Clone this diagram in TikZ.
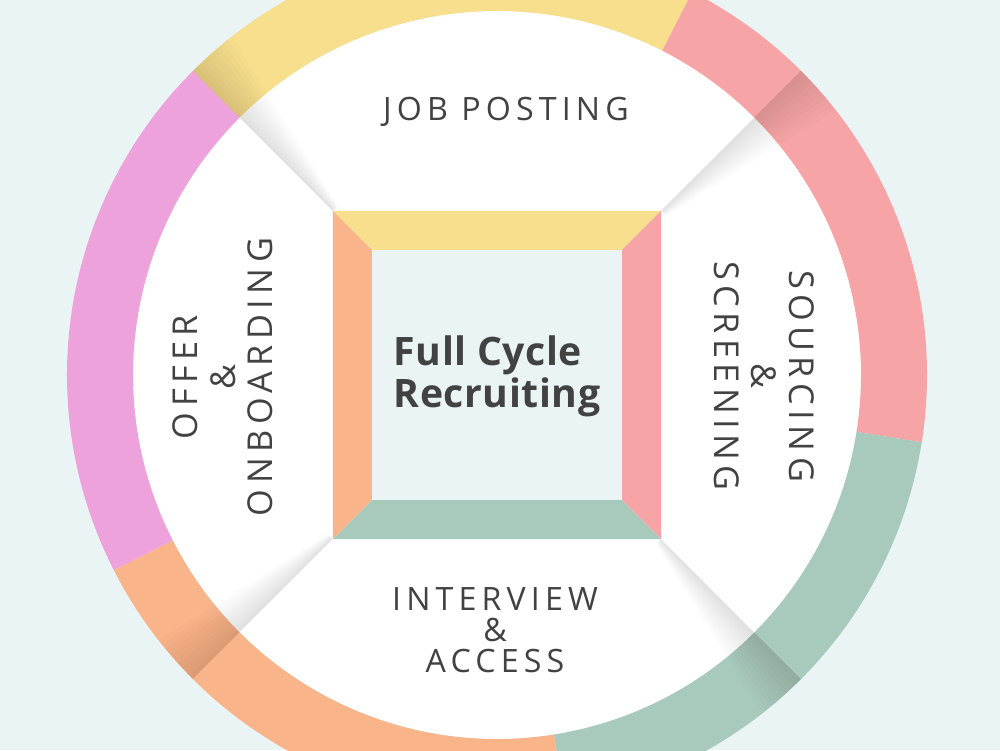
\documentclass[tikz,border=0pt]{standalone}
\usepackage{fontspec}
\setmainfont{Open Sans}
\newfontfamily\labelfont[LetterSpace=16]{Open Sans}
\newfontfamily\titlefont[LetterSpace=1.5]{Open Sans}
\definecolor{bgblue}{HTML}{EAF4F5}
\definecolor{ringyellow}{HTML}{F7DF8D}
\definecolor{ringred}{HTML}{F6A4A5}
\definecolor{ringgreen}{HTML}{A8CABD}
\definecolor{ringorange}{HTML}{F9B489}
\definecolor{ringpurple}{HTML}{EEA2DC}
\definecolor{textgray}{HTML}{424242}
\tikzset{
  steplabel/.style={text=textgray, inner sep=0pt, align=center,
    font=\labelfont\fontsize{18.3}{17.6}\selectfont},
  sidelabel/.style={steplabel, font=\labelfont\fontsize{19.5}{21.3}\selectfont},
  titlelabel/.style={text=textgray, inner sep=0pt, align=left,
    font=\titlefont\bfseries\fontsize{22.3}{23.9}\selectfont}
}
\begin{document}
\begin{tikzpicture}[x=0.2mm, y=0.2mm]
  \useasboundingbox (-497,-375) rectangle (503,375);
  \clip (-497,-375) rectangle (503,375);
  \fill[bgblue] (-497,-375) rectangle (503,375);
  \fill[white] (0,0) circle (364);
  \foreach \a/\c in {63/ringyellow, -9/ringred, -81/ringgreen, 207/ringorange, 135/ringpurple}{
    \fill[\c] (\a:430) arc[start angle=\a, delta angle=72, radius=430]
      -- ({\a+72}:364) arc[start angle={\a+72}, delta angle=-72, radius=364] -- cycle;
  }
  \begin{scope}
    \clip (0,0) circle (430);
    \foreach \a in {45,135,225,315}{
      \foreach \i in {1,...,10}{
        \fill[black, opacity=0.013, rotate=\a] (232,0) -- (440,0) -- (440,-5.5*\i) -- (232,-0.7*\i) -- cycle;
      }
    }
  \end{scope}
  \foreach \a/\c in {0/ringyellow, -90/ringred, 180/ringgreen, 90/ringorange}{
    \fill[\c, rotate=\a] (-164,164) -- (164,164) -- (125,125) -- (-125,125) -- cycle;
  }
  \fill[bgblue] (-125,-125) rectangle (125,125);
  \node[titlelabel] (title) at (0,-1) {Full Cycle\\Recruiting};
  \node[steplabel] (posting) at (9,263.5) {JOB POSTING};
  \node[steplabel] (interview) at (-2,-255) {INTERVIEW\\\&\\ACCESS};
  \node[sidelabel, rotate=-90] (sourcing) at (267,-1) {SOURCING\\\&\\SCREENING};
  \node[sidelabel, rotate=90] (offer) at (-274,-2) {OFFER\\\&\\ONBOARDING};
\end{tikzpicture}
\end{document}
